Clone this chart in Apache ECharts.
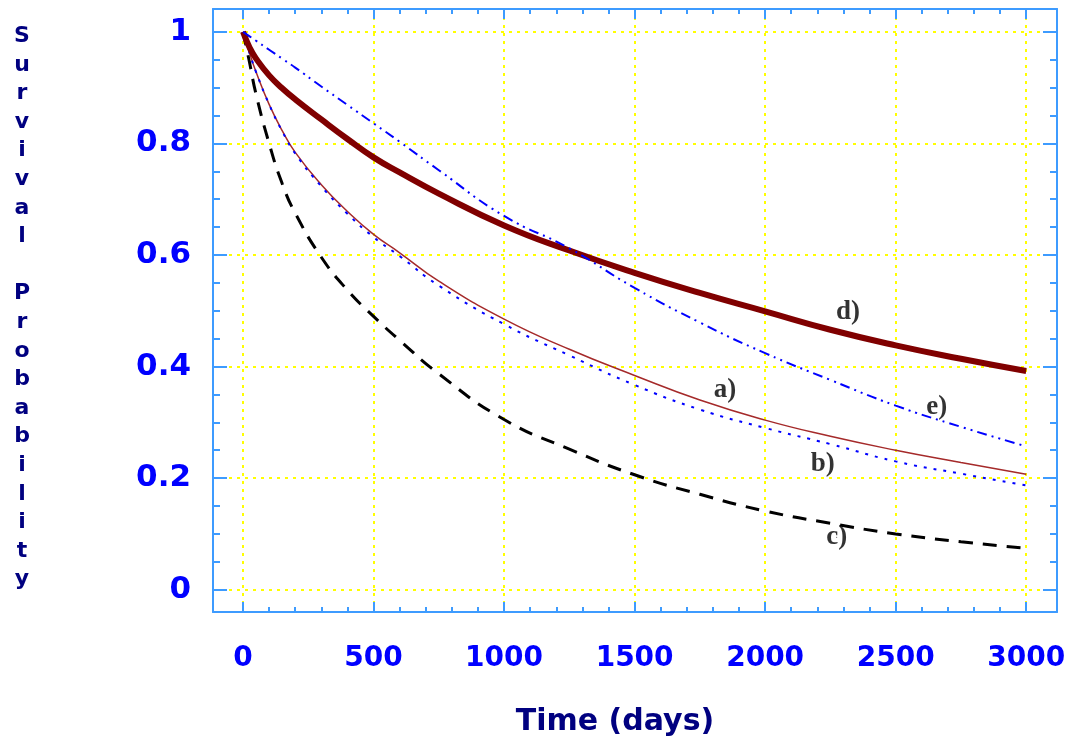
<!DOCTYPE html>
<html>
<head>
<meta charset="utf-8">
<title>Survival Probability</title>
<script src="https://cdn.jsdelivr.net/npm/echarts@6/dist/echarts.min.js"></script>
<style>
	html,body{margin:0;padding:0;background:#fff;}
	#table{width:1080px;height:742px;}
</style>
</head>
<body>
<div id="table"></div>
<script>
var days=[0,25,50,100,150,200,300,400,500,600,750,1000,1250,1500,1750,2000,2250,2500,2750,3000];
var curveA=[1.0,0.962,0.928,0.870,0.823,0.784,0.726,0.678,0.637,0.604,0.553,0.485,0.431,0.384,0.340,0.304,0.275,0.250,0.228,0.207];
var curveB=[1.0,0.962,0.928,0.870,0.822,0.782,0.723,0.674,0.632,0.598,0.545,0.476,0.420,0.367,0.323,0.290,0.261,0.230,0.208,0.187];
var curveC=[1.0,0.945,0.888,0.800,0.728,0.675,0.596,0.537,0.490,0.447,0.387,0.305,0.252,0.206,0.171,0.141,0.119,0.100,0.086,0.074];
var curveD=[1.0,0.972,0.952,0.922,0.899,0.879,0.843,0.808,0.775,0.748,0.710,0.653,0.608,0.568,0.532,0.499,0.466,0.438,0.414,0.392];
var curveE=[1.0,0.992,0.984,0.968,0.952,0.936,0.902,0.869,0.836,0.803,0.752,0.670,0.612,0.541,0.479,0.424,0.376,0.330,0.292,0.257];

var xMajor=[0,500,1000,1500,2000,2500,3000];
var xMinor=[100,200,300,400,600,700,800,900,1100,1200,1300,1400,1600,1700,1800,1900,2100,2200,2300,2400,2600,2700,2800,2900];
var yMajor=[0,0.2,0.4,0.6,0.8,1];
var yMinor=[0.05,0.1,0.15,0.25,0.3,0.35,0.45,0.5,0.55,0.65,0.7,0.75,0.85,0.9,0.95];

var labelNames=['a)','b)','c)','d)','e)'];
var labelX=[1846,2221,2274,2317,2657];
var labelY=[0.358,0.226,0.094,0.498,0.328];

var xMin=-115,xMax=3118,yMin=-0.04,yMax=1.041;
var frameColor='#3d9bff';
var gridColor='#ffff00';

var myChart=echarts.init(document.getElementById('table'));

function pairs(ys){
	var out=[];
	for(var i=0;i<days.length;i++){
		out.push([days[i],ys[i]]);
	}
	return out;
}

function plain(v){
	return String(v);
}

function xAxisOf(pos,ticks,len,main){
	return {
		type:'value',
		position:pos,
		min:xMin,
		max:xMax,
		axisLine:{show:main,onZero:false,lineStyle:{color:frameColor,width:2}},
		axisTick:{show:true,inside:true,length:len,customValues:ticks,lineStyle:{color:frameColor,width:2}},
		axisLabel:{show:main&&pos=='bottom',customValues:ticks,margin:33,color:'#0000ff',formatter:plain,
			fontFamily:'DejaVu Sans',fontWeight:'bold',fontSize:28},
		splitLine:{show:main&&pos=='bottom',lineStyle:{color:gridColor,width:2,type:[3,5]}},
		name:(main&&pos=='bottom')?'Time (days)':'',
		nameLocation:'middle',
		nameGap:95,
		nameTextStyle:{color:'#000080',fontFamily:'DejaVu Sans',fontWeight:'bold',fontSize:30,padding:[0,40,0,0]}
	};
}

function yAxisOf(pos,ticks,len,main){
	return {
		type:'value',
		position:pos,
		min:yMin,
		max:yMax,
		axisLine:{show:main,onZero:false,lineStyle:{color:frameColor,width:2}},
		axisTick:{show:true,inside:true,length:len,customValues:ticks,lineStyle:{color:frameColor,width:2}},
		axisLabel:{show:main&&pos=='left',customValues:ticks,margin:22,color:'#0000ff',formatter:plain,
			fontFamily:'DejaVu Sans',fontWeight:'bold',fontSize:31},
		splitLine:{show:main&&pos=='left',lineStyle:{color:gridColor,width:2,type:[3,5]}}
	};
}

var option={
	animation:false,
	backgroundColor:'#ffffff',
	title:{
		text:'Survival Probability'.split('').join('\n'),
		left:22,
		top:22,
		padding:0,
		textAlign:'center',
		textStyle:{color:'#000080',fontFamily:'DejaVu Sans',fontWeight:'bold',fontSize:22,lineHeight:28.6}
	},
	grid:{left:213,top:9,right:23,bottom:130,outerBoundsMode:'none'},
	xAxis:[
		xAxisOf('bottom',xMajor,10,true),
		xAxisOf('bottom',xMinor,5,false),
		xAxisOf('top',xMajor,10,true),
		xAxisOf('top',xMinor,5,false)
	],
	yAxis:[
		yAxisOf('left',yMajor,14,true),
		yAxisOf('left',yMinor,7,false),
		yAxisOf('right',yMajor,14,true),
		yAxisOf('right',yMinor,7,false)
	],
	series:[
		{
			name:'a)',type:'line',data:pairs(curveA),showSymbol:false,smooth:0.5,
			lineStyle:{color:'#a52a2a',width:1.5}
		},
		{
			name:'b)',type:'line',data:pairs(curveB),showSymbol:false,smooth:0.5,
			lineStyle:{color:'#0000ff',width:2,type:[3,7]}
		},
		{
			name:'c)',type:'line',data:pairs(curveC),showSymbol:false,smooth:0.5,
			lineStyle:{color:'#000000',width:3,type:[14,10]}
		},
		{
			name:'d)',type:'line',data:pairs(curveD),showSymbol:false,smooth:0.5,
			lineStyle:{color:'#800000',width:6}
		},
		{
			name:'e)',type:'line',data:pairs(curveE),showSymbol:false,smooth:0.5,
			lineStyle:{color:'#0000ff',width:2,type:[10,5,2,5,2,5]}
		},
		{
			name:'labels',type:'scatter',symbolSize:1,silent:true,
			itemStyle:{color:'#000000'},
			data:labelX.map(function(x,i){return {name:labelNames[i],value:[x,labelY[i]]};}),
			label:{show:true,position:'inside',formatter:'{b}',color:'#000000',textBorderWidth:0,
				fontFamily:'Liberation Serif',fontWeight:'bold',fontSize:27}
		}
	]
};

myChart.setOption(option);
</script>
</body>
</html>
